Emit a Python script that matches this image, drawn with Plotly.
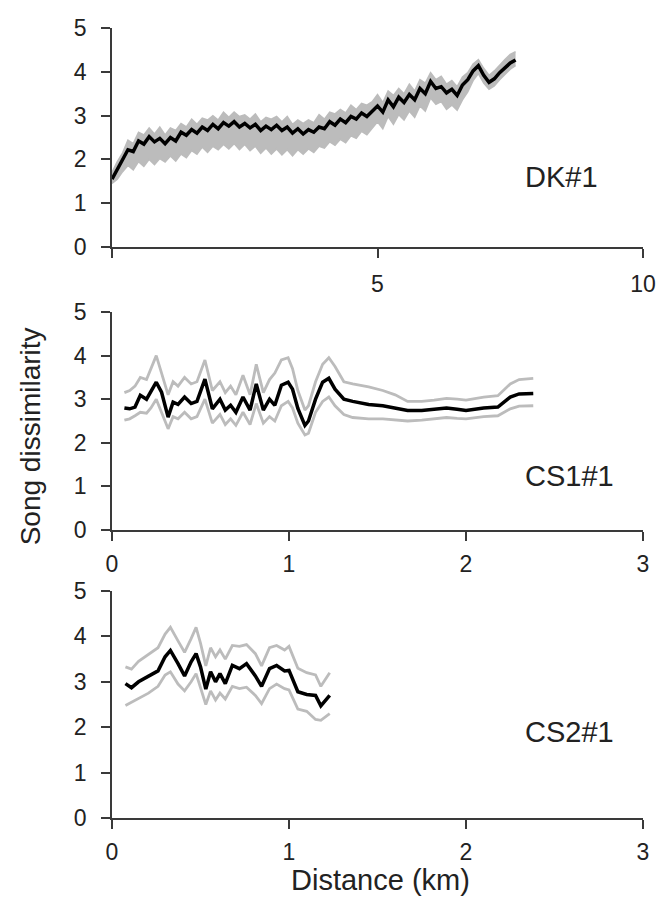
import plotly.graph_objects as go

# ---------------- DK#1 ----------------
dk_km = [0.0, 0.1, 0.2, 0.3, 0.4, 0.5, 0.6, 0.7, 0.8, 0.9,
         1.0, 1.1, 1.2, 1.3, 1.4, 1.5, 1.6, 1.7, 1.8, 1.9,
         2.0, 2.1, 2.2, 2.3, 2.4, 2.5, 2.6, 2.7, 2.8, 2.9,
         3.0, 3.1, 3.2, 3.3, 3.4, 3.5, 3.6, 3.7, 3.8, 3.9,
         4.0, 4.1, 4.2, 4.3, 4.4, 4.5, 4.6, 4.7, 4.8, 4.9,
         5.0, 5.1, 5.2, 5.3, 5.4, 5.5, 5.6, 5.7, 5.8, 5.9,
         6.0, 6.1, 6.2, 6.3, 6.4, 6.5, 6.6, 6.7, 6.8, 6.9,
         7.0, 7.1, 7.2, 7.3, 7.4, 7.5, 7.6]
dk_mean = [1.55, 1.78, 1.98, 2.22, 2.18, 2.42, 2.35, 2.52, 2.40, 2.48,
           2.36, 2.50, 2.42, 2.62, 2.55, 2.68, 2.60, 2.74, 2.66, 2.80,
           2.70, 2.84, 2.76, 2.86, 2.74, 2.82, 2.72, 2.80, 2.66, 2.76,
           2.68, 2.78, 2.66, 2.74, 2.60, 2.70, 2.58, 2.68, 2.62, 2.74,
           2.70, 2.86, 2.78, 2.92, 2.84, 2.98, 2.92, 3.06, 2.98, 3.10,
           3.22, 3.08, 3.36, 3.20, 3.42, 3.30, 3.48, 3.36, 3.62, 3.50,
           3.78, 3.62, 3.66, 3.52, 3.60, 3.46, 3.70, 3.82, 4.02, 4.14,
           3.92, 3.76, 3.84, 3.98, 4.10, 4.20, 4.27]
dk_upper = [1.70, 1.95, 2.15, 2.44, 2.36, 2.62, 2.56, 2.72, 2.58, 2.74,
            2.56, 2.72, 2.66, 2.82, 2.74, 2.92, 2.80, 2.94, 2.90, 3.00,
            2.90, 3.08, 2.96, 3.08, 2.98, 3.02, 2.92, 3.04, 2.86, 2.96,
            2.92, 2.98, 2.86, 2.98, 2.80, 2.90, 2.82, 2.90, 2.84, 3.02,
            2.92, 3.08, 3.04, 3.14, 3.06, 3.24, 3.14, 3.28, 3.24, 3.32,
            3.48, 3.30, 3.56, 3.46, 3.62, 3.50, 3.72, 3.56, 3.82, 3.74,
            3.98, 3.82, 3.90, 3.72, 3.80, 3.66, 3.88, 3.98, 4.18, 4.28,
            4.08, 3.92, 4.02, 4.16, 4.28, 4.40, 4.46]
dk_lower = [1.45, 1.55, 1.72, 1.86, 1.76, 1.95, 1.84, 2.00, 1.88, 2.02,
            1.94, 2.08, 1.96, 2.12, 2.04, 2.20, 2.12, 2.28, 2.16, 2.30,
            2.22, 2.34, 2.24, 2.36, 2.22, 2.34, 2.20, 2.30, 2.14, 2.26,
            2.12, 2.24, 2.10, 2.22, 2.08, 2.22, 2.12, 2.24, 2.16, 2.30,
            2.26, 2.40, 2.32, 2.46, 2.38, 2.54, 2.48, 2.64, 2.56, 2.72,
            2.86, 2.70, 2.98, 2.80, 3.02, 2.90, 3.10, 2.96, 3.22, 3.10,
            3.40, 3.26, 3.32, 3.14, 3.24, 3.12, 3.36, 3.54, 3.80, 3.96,
            3.74, 3.60, 3.68, 3.82, 3.94, 4.06, 4.14]

# ---------------- CS1#1 ----------------
cs1_km = [0.07, 0.10, 0.13, 0.16, 0.195, 0.22, 0.25, 0.28, 0.317, 0.345,
          0.373, 0.41, 0.447, 0.48, 0.525, 0.567, 0.61, 0.64, 0.67, 0.70,
          0.74, 0.78, 0.815, 0.855, 0.89, 0.92, 0.957, 0.995, 1.02, 1.05,
          1.09, 1.11, 1.15, 1.19, 1.225, 1.26, 1.31, 1.36, 1.45, 1.53,
          1.60, 1.67, 1.75, 1.82, 1.89, 1.95, 2.0, 2.1, 2.18, 2.25,
          2.30, 2.38]
cs1_mean = [2.80, 2.78, 2.82, 3.09, 3.00, 3.18, 3.39, 3.16, 2.59, 2.93,
            2.88, 3.05, 2.90, 2.95, 3.46, 2.78, 3.00, 2.75, 2.86, 2.70,
            3.05, 2.75, 3.35, 2.75, 3.00, 2.86, 3.32, 3.39, 3.23, 2.79,
            2.40, 2.50, 3.00, 3.39, 3.48, 3.23, 3.00, 2.95, 2.88, 2.85,
            2.80, 2.74, 2.74, 2.76, 2.80, 2.77, 2.74, 2.80, 2.82, 3.05,
            3.12, 3.13]
cs1_upper = [3.15, 3.20, 3.30, 3.50, 3.45, 3.70, 4.00, 3.60, 3.10, 3.40,
             3.30, 3.50, 3.35, 3.40, 3.90, 3.20, 3.40, 3.15, 3.30, 3.10,
             3.55, 3.10, 3.80, 3.15, 3.45, 3.60, 3.90, 3.95, 3.70, 3.20,
             2.75, 2.85, 3.40, 3.80, 3.95, 3.75, 3.40, 3.35, 3.28, 3.20,
             3.10, 2.95, 2.95, 2.98, 3.02, 3.00, 2.98, 3.05, 3.08, 3.35,
             3.45, 3.48]
cs1_lower = [2.52, 2.55, 2.62, 2.70, 2.68, 2.80, 3.00, 2.70, 2.32, 2.60,
             2.55, 2.70, 2.55, 2.60, 3.00, 2.45, 2.65, 2.42, 2.55, 2.40,
             2.70, 2.42, 2.90, 2.45, 2.60, 2.50, 2.85, 2.95, 2.80, 2.45,
             2.18, 2.22, 2.70, 2.95, 3.05, 2.85, 2.65, 2.58, 2.55, 2.55,
             2.52, 2.50, 2.52, 2.55, 2.58, 2.56, 2.55, 2.60, 2.62, 2.78,
             2.84, 2.85]

# ---------------- CS2#1 ----------------
cs2_km = [0.076, 0.11, 0.15, 0.206, 0.26, 0.30, 0.33, 0.373, 0.41, 0.447,
          0.475, 0.50, 0.53, 0.557, 0.585, 0.61, 0.64, 0.68, 0.72, 0.76,
          0.81, 0.845, 0.89, 0.93, 0.975, 1.0, 1.05, 1.10, 1.15, 1.18, 1.23]
cs2_mean = [2.96, 2.87, 3.00, 3.13, 3.24, 3.55, 3.69, 3.40, 3.13, 3.44,
            3.62, 3.33, 2.84, 3.22, 3.00, 3.18, 2.96, 3.36, 3.29, 3.40,
            3.13, 2.90, 3.29, 3.36, 3.24, 3.25, 2.78, 2.72, 2.70, 2.47, 2.70]
cs2_upper = [3.33, 3.28, 3.45, 3.60, 3.75, 4.05, 4.20, 3.90, 3.65, 3.95,
             4.20, 3.85, 3.35, 3.75, 3.55, 3.70, 3.50, 3.80, 3.78, 3.82,
             3.62, 3.35, 3.75, 3.80, 3.70, 3.78, 3.30, 3.20, 3.15, 2.90, 3.20]
cs2_lower = [2.48, 2.55, 2.62, 2.75, 2.90, 3.15, 3.22, 2.95, 2.80, 3.00,
             3.18, 2.85, 2.50, 2.80, 2.60, 2.75, 2.62, 2.90, 2.85, 2.88,
             2.70, 2.52, 2.85, 2.95, 2.85, 2.82, 2.40, 2.35, 2.17, 2.15, 2.30]

panel_labels = ["DK#1", "CS1#1", "CS2#1"]
y_ticks = [0, 1, 2, 3, 4, 5]
dk_xticks = [0, 5, 10]
dk_xticklabels = ["", "5", "10"]
cs_xticks = [0, 1, 2, 3]
cs_xticklabels = ["0", "1", "2", "3"]

GRAY = "#bcbcbc"
BLACK = "#000000"
AXC = "#3a3a3a"
TXT = "#222222"
FONT = "Liberation Sans, Arial, sans-serif"

fig = go.Figure()

# DK#1: gray band + black mean
fig.add_trace(go.Scatter(x=dk_km, y=dk_lower, mode="lines",
                         line=dict(color=GRAY, width=1.5),
                         xaxis="x", yaxis="y", showlegend=False))
fig.add_trace(go.Scatter(x=dk_km, y=dk_upper, mode="lines",
                         line=dict(color=GRAY, width=1.5),
                         fill="tonexty", fillcolor=GRAY,
                         xaxis="x", yaxis="y", showlegend=False))
fig.add_trace(go.Scatter(x=dk_km, y=dk_mean, mode="lines",
                         line=dict(color=BLACK, width=3.5),
                         xaxis="x", yaxis="y", showlegend=False))

# CS1#1
for arr in (cs1_upper, cs1_lower):
    fig.add_trace(go.Scatter(x=cs1_km, y=arr, mode="lines",
                             line=dict(color=GRAY, width=2.8),
                             xaxis="x2", yaxis="y2", showlegend=False))
fig.add_trace(go.Scatter(x=cs1_km, y=cs1_mean, mode="lines",
                         line=dict(color=BLACK, width=3.5),
                         xaxis="x2", yaxis="y2", showlegend=False))

# CS2#1
for arr in (cs2_upper, cs2_lower):
    fig.add_trace(go.Scatter(x=cs2_km, y=arr, mode="lines",
                             line=dict(color=GRAY, width=2.8),
                             xaxis="x3", yaxis="y3", showlegend=False))
fig.add_trace(go.Scatter(x=cs2_km, y=cs2_mean, mode="lines",
                         line=dict(color=BLACK, width=3.5),
                         xaxis="x3", yaxis="y3", showlegend=False))

W, H = 668, 899
ML, MR, MT, MB = 112, 23, 28, 81
PW = W - ML - MR
PH = H - MT - MB


def ydom(top_px, bottom_px):
    return [(H - MB - bottom_px) / PH, (H - MB - top_px) / PH]


def px_to_paper(px, py):
    return (px - ML) / PW, (H - MB - py) / PH


tickfont = dict(family=FONT, size=23, color=TXT)
common_x = dict(showline=True, linecolor=AXC, linewidth=1.5, ticks="outside",
                ticklen=9, tickwidth=1.5, tickcolor=AXC, showgrid=False,
                zeroline=False, tickfont=tickfont, ticklabelstandoff=4,
                fixedrange=True)
common_y = dict(showline=True, linecolor=AXC, linewidth=1.5, ticks="outside",
                ticklen=9, tickwidth=1.5, tickcolor=AXC, showgrid=False,
                zeroline=False, tickfont=tickfont, range=[0, 5],
                tickvals=y_ticks, ticklabelstandoff=10, fixedrange=True)

layout = dict(
    width=W, height=H,
    margin=dict(l=ML, r=MR, t=MT, b=MB),
    paper_bgcolor="white", plot_bgcolor="white",
    xaxis=dict(common_x, range=[0, 10], tickvals=dk_xticks,
               ticktext=dk_xticklabels, anchor="y", ticklabelstandoff=7),
    yaxis=dict(common_y, domain=ydom(28, 247), anchor="x"),
    xaxis2=dict(common_x, range=[0, 3], tickvals=cs_xticks,
                ticktext=cs_xticklabels, anchor="y2"),
    yaxis2=dict(common_y, domain=ydom(312, 530), anchor="x2"),
    xaxis3=dict(common_x, range=[0, 3], tickvals=cs_xticks,
                ticktext=cs_xticklabels, anchor="y3"),
    yaxis3=dict(common_y, domain=ydom(591, 818), anchor="x3"),
    showlegend=False,
)
fig.update_layout(**layout)

label_pos = [(563, 177), (571, 476), (571, 732)]
for txt, (px, py) in zip(panel_labels, label_pos):
    ax_, ay_ = px_to_paper(px, py)
    fig.add_annotation(x=ax_, y=ay_, xref="paper", yref="paper", text=txt,
                       showarrow=False, xanchor="center", yanchor="middle",
                       font=dict(family=FONT, size=29, color=TXT))

tx, ty = px_to_paper(30, 436)
fig.add_annotation(x=tx, y=ty, xref="paper", yref="paper",
                   text="Song dissimilarity", textangle=-90, showarrow=False,
                   xanchor="center", yanchor="middle",
                   font=dict(family=FONT, size=28, color=TXT))
dx, dy = px_to_paper(382, 880)
fig.add_annotation(x=dx, y=dy, xref="paper", yref="paper",
                   text="Distance (km)", showarrow=False,
                   xanchor="center", yanchor="middle",
                   font=dict(family=FONT, size=29, color=TXT))

fig.write_html("out.html",
               config={"displayModeBar": False},
               post_script="document.body.style.margin='0px';"
                           "document.body.style.overflow='hidden';")
